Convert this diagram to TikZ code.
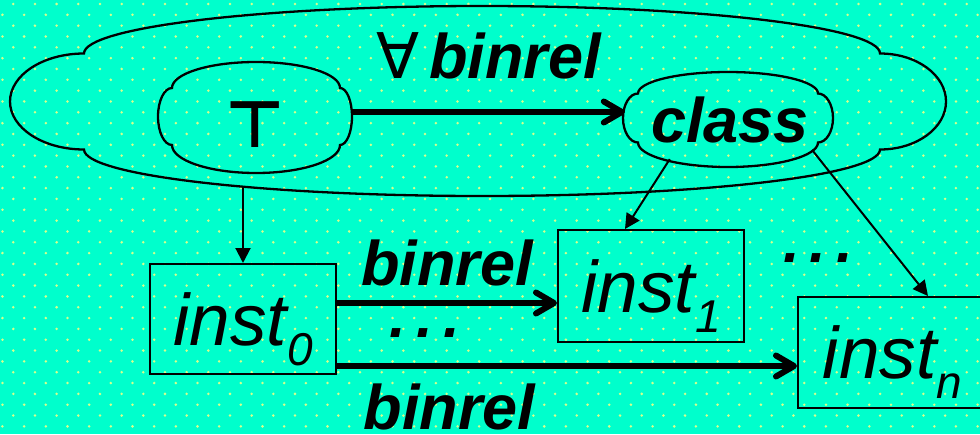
\documentclass[tikz,border=0pt]{standalone}
\usepackage{fontspec}
\setmainfont{Liberation Sans}
\newfontfamily\symfont{DejaVu Sans}
\usetikzlibrary{arrows.meta,shapes.geometric}

\definecolor{bgturq}{RGB}{0,255,204}
\definecolor{dotyellow}{RGB}{215,255,140}
\newcommand\instlabel[1]{inst\raisebox{-20pt}{\fontsize{46pt}{46pt}\selectfont #1}}

\begin{document}
\begin{tikzpicture}[x=1pt, y=1pt,
    cloudline/.style={line width=2.3pt},
    instbox/.style={draw, line width=2pt, minimum width=186pt, minimum height=110pt, inner sep=0pt,
        text height=52pt, text depth=0pt, font=\fontsize{73pt}{73pt}\selectfont\itshape},
    boldlabel/.style={font=\fontsize{63pt}{63pt}\selectfont\bfseries\itshape, inner sep=0pt, anchor=base},
    dotslabel/.style={font=\fontsize{60pt}{60pt}\selectfont\bfseries\itshape, inner sep=0pt, anchor=base},
    thinarrow/.style={line width=2pt, -{Triangle[length=15pt,width=15pt]}},
    thickarrow/.style={line width=6pt, -{Straight Barb[length=18pt,width=21pt,round]}}]
    \useasboundingbox (0,0) rectangle (980,-434);
    \fill[bgturq] (0,0) rectangle (980,-434);
    \foreach \r in {0,...,40} { \foreach \c in {0,...,45} { \fill[dotyellow] ({13.3+21.67*\c-10.83*mod(\r,2)}, {-4-10.83*\r}) circle (1.4); } }

    % outer cloud
    \draw[cloudline] (84,-53.5) arc[start angle=90, end angle=270, x radius=74, y radius=48]
        arc[start angle=180, end angle=360, x radius=398, y radius=46.5]
        arc[start angle=270, end angle=450, x radius=66, y radius=48]
        arc[start angle=0, end angle=180, x radius=398, y radius=47.5] -- cycle;
    \coordinate (outer-bot) at (243,-187);

    % inner clouds
    \draw[cloudline] (340,-88) arc[start angle=0, end angle=180, x radius=84, y radius=26]
        arc[start angle=90, end angle=270, x radius=14, y radius=28.5]
        arc[start angle=180, end angle=360, x radius=84, y radius=28]
        arc[start angle=270, end angle=450, x radius=12, y radius=28.5] -- cycle;
    \draw[cloudline] (818,-93.5) arc[start angle=0, end angle=180, x radius=90, y radius=21.5]
        arc[start angle=90, end angle=270, x radius=15, y radius=24.5]
        arc[start angle=180, end angle=360, x radius=90, y radius=24.5]
        arc[start angle=270, end angle=450, x radius=15, y radius=24.5] -- cycle;

    \node[ellipse, minimum width=194pt, minimum height=111pt, inner sep=0pt, text height=59pt, text depth=0pt,
        font=\symfont\bfseries\fontsize{65pt}{65pt}\selectfont] (top) at (255,-117.5) {⊤};
    \node[ellipse, minimum width=210pt, minimum height=95pt, inner sep=0pt,
        font=\fontsize{63pt}{63pt}\selectfont\bfseries\itshape] (cls) at (730,-120) {\makebox[0pt]{class}};

    \node[instbox] (inst0) at (243,-319) {\instlabel{0}};
    \node[instbox, minimum height=112pt] (inst1) at (651,-286) {\instlabel{1}};
    \node[instbox, minimum width=189pt, minimum height=111pt] (instn) at (892.5,-352.5) {\instlabel{n}};

    % dots between the relations
    \node[dotslabel] (gap0) at (425,-337) {.\kern10pt.\kern10pt.};
    \node[dotslabel] (gapn) at (818,-262) {.\kern10pt.\kern10pt.};

    \draw[thickarrow] ([yshift=5.5pt]top.east) -- ([yshift=5.5pt]top.east -| cls.west)
        node[boldlabel, midway, yshift=34pt] {{\symfont\mdseries\upshape ∀}\kern10pt binrel};
    \draw[thinarrow] (outer-bot) -- (inst0);
    \draw[thinarrow] (cls.213) -- ([xshift=-26pt]inst1.north);
    \draw[thinarrow] (cls.-20) -- ([xshift=35.5pt]instn.north);

    \draw[thickarrow] ([yshift=16pt]inst0.east) -- ([yshift=16pt]inst0.east -| inst1.west)
        node[boldlabel, midway, yshift=18pt] {binrel};
    \draw[thickarrow] ([yshift=-47pt]inst0.east) -- ([yshift=-47pt]inst0.east -| instn.west)
        node[boldlabel, pos=0.245, yshift=-63pt] {binrel};
\end{tikzpicture}
\end{document}
